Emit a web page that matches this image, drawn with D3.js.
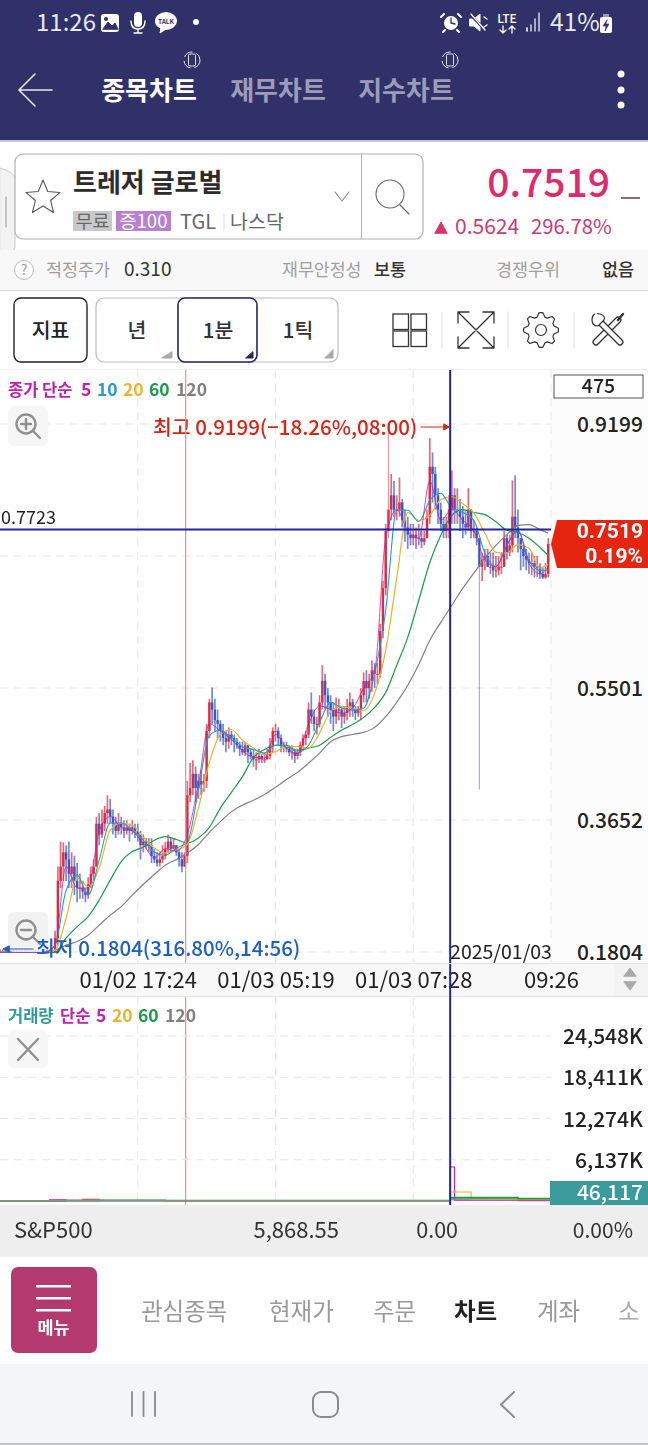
<!DOCTYPE html>
<html>
<head>
<meta charset="utf-8">
<script src="https://d3js.org/d3.v7.min.js"></script>
<style>
  html, body { margin: 0; padding: 0; background: #fff; }
  svg { display: block; }
  text { font-family: 'Noto Sans CJK KR', 'Noto Sans', sans-serif; }
</style>
</head>
<body>
<div id="chart"></div>
<script>
// Price ticks and time ticks
const priceTicks = [0.9199, 0.7350, 0.5501, 0.3652, 0.1804];
const priceTickLabels = ['0.9199', '', '0.5501', '0.3652', '0.1804'];
const timeTicks = [50, 100, 150, 200];
const timeLabels = ['01/02 17:24', '01/03 05:19', '01/03 07:28', '09:26'];
const volumeTicks = [24548, 18411, 12274, 6137];
const volumeLabels = ['24,548K', '18,411K', '12,274K', '6,137K'];

// 1 minute candles
const closes = [
  .1804,.1804,.1804,.1804,.1804,.1804,.1804,.1804,.1804,.1804,
  .1804,.1804,.1804,.1804,.1804,.1804,.1804,.1804,.1804,.1804,
  .20,.28,.30,.32,.31,.29,.30,.28,.27,.27,
  .265,.26,.275,.29,.30,.36,.345,.36,.375,.38,
  .37,.36,.35,.36,.355,.35,.355,.35,.355,.35,
  .345,.33,.335,.33,.33,.315,.31,.305,.31,.315,
  .325,.335,.325,.33,.32,.31,.30,.315,.40,.41,
  .43,.41,.42,.415,.42,.49,.53,.52,.505,.50,
  .49,.48,.475,.485,.48,.475,.47,.465,.46,.47,
  .46,.455,.45,.45,.455,.45,.45,.455,.47,.49,
  .49,.48,.47,.47,.465,.46,.46,.455,.46,.47,
  .48,.485,.52,.51,.50,.50,.53,.56,.54,.53,
  .52,.51,.52,.52,.51,.515,.525,.53,.52,.515,
  .52,.54,.56,.55,.56,.575,.57,.57,.63,.69,
  .77,.80,.82,.80,.80,.81,.785,.775,.765,.76,
  .765,.76,.76,.755,.76,.79,.86,.85,.82,.80,
  .78,.77,.78,.80,.82,.80,.80,.79,.78,.775,
  .80,.77,.77,.76,.72,.73,.735,.72,.72,.715,
  .715,.72,.72,.76,.74,.75,.79,.775,.76,.745,
  .735,.73,.725,.725,.72,.72,.71,.705,.71,.7519
];
const highs = [
  .184,.184,.184,.184,.184,.184,.184,.184,.184,.184,
  .184,.184,.184,.184,.184,.184,.184,.184,.184,.184,
  .21,.30,.335,.334,.33,.335,.32,.315,.305,.29,
  .28,.27,.285,.30,.31,.37,.375,.38,.385,.40,
  .395,.38,.37,.375,.37,.365,.365,.36,.365,.36,
  .36,.35,.345,.34,.34,.34,.325,.32,.32,.33,
  .335,.345,.34,.34,.33,.325,.32,.32,.42,.445,
  .449,.44,.43,.435,.43,.50,.535,.551,.535,.52,
  .505,.50,.49,.495,.49,.485,.48,.475,.475,.475,
  .47,.465,.465,.46,.465,.46,.46,.465,.48,.495,
  .50,.495,.485,.475,.475,.47,.47,.465,.465,.475,
  .485,.49,.53,.544,.52,.51,.54,.582,.57,.55,
  .54,.53,.537,.535,.525,.525,.535,.544,.535,.525,
  .525,.55,.572,.575,.57,.589,.585,.585,.64,.70,
  .78,.908,.85,.84,.82,.845,.815,.80,.79,.78,
  .78,.775,.78,.77,.77,.80,.90,.88,.86,.83,
  .81,.79,.79,.82,.855,.83,.83,.815,.805,.80,
  .83,.80,.785,.775,.76,.74,.745,.745,.74,.74,
  .735,.735,.74,.77,.765,.765,.841,.848,.80,.76,
  .75,.745,.74,.74,.735,.735,.725,.72,.725,.76
];
const lows = [
  .1804,.1804,.1804,.1804,.1804,.1804,.1804,.1804,.1804,.1804,
  .1804,.1804,.1804,.1804,.1804,.1804,.1804,.1804,.1804,.1804,
  .18,.19,.27,.28,.28,.27,.27,.26,.25,.255,
  .255,.25,.255,.27,.28,.30,.33,.34,.35,.36,
  .36,.345,.34,.345,.345,.34,.345,.335,.345,.34,
  .335,.31,.32,.325,.32,.305,.305,.30,.30,.305,
  .31,.32,.32,.325,.315,.30,.292,.30,.305,.39,
  .40,.39,.395,.40,.405,.41,.48,.50,.49,.48,
  .475,.47,.46,.465,.47,.46,.465,.455,.456,.455,
  .445,.45,.44,.435,.445,.445,.445,.45,.45,.46,
  .475,.47,.46,.46,.46,.455,.45,.445,.45,.455,
  .465,.47,.48,.50,.49,.485,.495,.52,.52,.51,
  .50,.49,.50,.505,.494,.50,.505,.51,.51,.505,
  .51,.505,.53,.53,.535,.545,.55,.555,.565,.62,
  .68,.76,.785,.79,.785,.79,.775,.755,.745,.75,
  .75,.745,.75,.746,.75,.76,.78,.81,.80,.78,
  .77,.76,.76,.76,.78,.78,.78,.77,.76,.765,
  .77,.76,.76,.75,.408,.70,.715,.72,.71,.705,
  .705,.708,.71,.72,.73,.735,.74,.76,.74,.715,
  .72,.715,.71,.708,.705,.705,.703,.703,.703,.705
];

// Moving averages, read every 4th bar plus the last one
const ma5 = [
  .18,.18,.18,.18,.18,.19,.30,.27,.27,.35,
  .37,.355,.35,.332,.312,.325,.322,.345,.415,.50,
  .49,.478,.462,.453,.452,.485,.466,.458,.50,.525,
  .52,.515,.522,.55,.575,.76,.80,.77,.76,.84,
  .785,.80,.785,.77,.73,.72,.75,.77,.725,.71,.72
];
const ma10 = [
  .18,.18,.18,.18,.18,.19,.267,.288,.26,.309,
  .361,.361,.351,.337,.32,.316,.326,.334,.407,.484,
  .491,.48,.468,.464,.459,.47,.47,.46,.47,.502,
  .53,.522,.519,.522,.571,.659,.799,.799,.783,.813,
  .823,.802,.796,.785,.739,.72,.75,.771,.729,.715,.715
];
const ma20 = [
  .18,.18,.18,.18,.18,.183,.228,.284,.272,.298,
  .351,.361,.358,.341,.326,.319,.323,.331,.382,.446,
  .485,.492,.477,.466,.457,.461,.468,.468,.466,.487,
  .517,.524,.522,.519,.543,.603,.704,.796,.785,.792,
  .814,.818,.808,.795,.767,.74,.739,.751,.746,.718,.723
];
const ma60 = [
  .18,.18,.18,.18,.18,.18,.20,.216,.23,.253,
  .281,.307,.321,.327,.337,.342,.338,.333,.34,.355,
  .382,.404,.426,.453,.464,.47,.468,.463,.466,.47,
  .481,.491,.499,.509,.523,.544,.582,.621,.673,.726,
  .764,.792,.80,.796,.793,.783,.771,.768,.76,.747,.736
];
const ma120 = [
  .18,.18,.18,.18,.18,.183,.19,.195,.204,.218,
  .232,.244,.26,.275,.289,.302,.31,.319,.331,.348,
  .363,.377,.386,.393,.401,.411,.422,.432,.445,.459,
  .475,.482,.485,.488,.495,.51,.53,.554,.583,.617,
  .642,.666,.69,.711,.732,.75,.765,.778,.779,.772,.767
];

// Volume in thousands, read every 4th bar
const volumes = [
  20,20,20,20,20,180,120,60,90,70,
  60,40,40,50,40,30,30,50,60,50,
  40,30,30,30,30,50,30,30,40,50,
  40,30,30,40,60,120,60,50,40,40,
  60,50,40,30,30,30,30,60,30,30
];
// Volume averages change at these bars only
const volumeSteps = [0, 18, 24, 30, 36, 60, 120, 163.4, 165, 171, 188, 200];
const volMa5 = [20, 190, 100, 240, 70, 40, 50, 5060, 120, 110, 60, 46];
const volMa20 = [20, 60, 110, 120, 90, 50, 50, 1340, 1340, 300, 200, 120];
const volMa60 = [20, 30, 50, 70, 80, 60, 50, 480, 480, 480, 350, 350];
const volMa120 = [20, 20, 30, 40, 50, 50, 50, 270, 270, 270, 270, 270];

const currentPrice = 0.7519;
const crossPrice = 0.7723;
const crossBar = 163.4;
const markerBar = 67.4;

const colors = {
  up: '#dc2b45', down: '#3658c6', ma5: '#c21fae', ma10: '#1f9fc9', ma20: '#eeb22c',
  ma60: '#1d9a4a', ma120: '#808080', navy: '#303169', cross: '#2323a8', grid: '#e6e6e6'
};

const width = 648, height = 1445;
const svg = d3.select('#chart').append('svg').attr('width', width).attr('height', height);

const defs = svg.append('defs');
defs.append('filter').attr('id', 'soft').attr('x', '-5%').attr('y', '-5%').attr('width', '110%').attr('height', '110%')
  .append('feGaussianBlur').attr('stdDeviation', 0.45);

function label(parent, x, y, str, size, fill, opts = {}) {
  return parent.append('text')
    .attr('x', x).attr('y', y)
    .attr('font-size', size)
    .attr('fill', fill)
    .attr('font-weight', opts.weight || 400)
    .attr('text-anchor', opts.anchor || 'start')
    .text(str);
}
function box(parent, x, y, w, h, fill, opts = {}) {
  return parent.append('rect').attr('x', x).attr('y', y).attr('width', w).attr('height', h)
    .attr('rx', opts.rx || 0).attr('fill', fill)
    .attr('stroke', opts.stroke || 'none').attr('stroke-width', opts.sw || 1);
}
function stroke(parent, d, color, sw = 1.5, fill = 'none') {
  return parent.append('path').attr('d', d).attr('fill', fill).attr('stroke', color)
    .attr('stroke-width', sw).attr('stroke-linecap', 'round').attr('stroke-linejoin', 'round');
}

/* ---------- app chrome above the chart ---------- */
const header = svg.append('g');
box(header, 0, 0, width, 140, colors.navy);
box(header, 0, 140, width, 2, '#c5c8dc');
label(header, 36, 31, '11:26', 24, '#e8e8f0');

// status icons left
box(header, 101, 14, 18, 18, '#fff', { rx: 3 });
stroke(header, 'M103 29 L108 22 L112 26 L115 23 L118 29 Z', colors.navy, 1, colors.navy);
header.append('circle').attr('cx', 106).attr('cy', 19).attr('r', 2).attr('fill', colors.navy);
box(header, 134, 12, 8, 15, '#fff', { rx: 4 });
stroke(header, 'M131 21 Q131 29 138 29 Q145 29 145 21 M138 29 L138 33 M134 33 L142 33', '#fff', 1.4);
header.append('ellipse').attr('cx', 166).attr('cy', 21).attr('rx', 11).attr('ry', 9).attr('fill', '#fff');
stroke(header, 'M161 28 L160 33 L166 29', '#fff', 1, '#fff');
label(header, 166, 24, 'TALK', 6.5, colors.navy, { anchor: 'middle', weight: 700 });
header.append('circle').attr('cx', 196).attr('cy', 22).attr('r', 3).attr('fill', '#fff');

// status icons right
header.append('circle').attr('cx', 451).attr('cy', 23).attr('r', 7).attr('fill', '#fff');
stroke(header, 'M451 18 L451 23 L455 24', colors.navy, 1.3);
stroke(header, 'M444 14 L441 17 M458 14 L461 17 M445 30 L443 32 M457 30 L459 32', '#fff', 2);
stroke(header, 'M470 19 L474 19 L480 14 L480 31 L474 26 L470 26 Z', '#fff', 1, '#fff');
stroke(header, 'M470 14 L486 31', colors.navy, 3);
stroke(header, 'M471 14 L485 30', '#fff', 1.3);
stroke(header, 'M484 17 L487 19 M484 27 L487 25', '#fff', 1.4);
label(header, 507, 23, 'LTE', 12, '#fff', { anchor: 'middle', weight: 500 });
stroke(header, 'M503 26 L503 33 M500 30 L503 33 L506 30 M512 33 L512 26 M509 29 L512 26 L515 29', '#fff', 1.3);
[[527, 31, 28], [531, 31, 25], [535, 31, 19], [539, 31, 13]].forEach(d => {
  stroke(header, `M${d[0]} ${d[1]} L${d[0]} ${d[2]}`, d[0] > 530 ? '#c9c9dc' : '#fff', 1.6);
});
label(header, 550, 31, '41%', 24.5, '#e8e8f0');
box(header, 600, 17, 12, 16, '#fff', { rx: 2 });
box(header, 603, 14, 6, 3, '#9a9ab8');
stroke(header, 'M607 20 L603 26 L606 26 L605 31 L609 24 L606 24 Z', colors.navy, 0.6, colors.navy);

// app bar
stroke(header, 'M52 90 L19 90 M19 90 L35 74 M19 90 L35 106', '#e8e8f0', 1.6);
label(header, 149, 100, '종목차트', 26, '#fff', { anchor: 'middle', weight: 700 });
label(header, 278, 100, '재무차트', 26, '#9c9cb8', { anchor: 'middle', weight: 700 });
label(header, 406, 100, '지수차트', 26, '#9c9cb8', { anchor: 'middle', weight: 700 });
[74, 90, 105].forEach(cy => header.append('circle').attr('cx', 621).attr('cy', cy).attr('r', 3.5).attr('fill', '#fff'));
[192, 450].forEach(cx => {
  box(header, cx - 3.5, 54, 7, 12, 'none', { rx: 1.5, stroke: '#e0e0ea', sw: 1 });
  header.append('circle').attr('cx', cx).attr('cy', 60).attr('r', 8).attr('fill', 'none')
    .attr('stroke', '#e0e0ea').attr('stroke-width', 1).attr('stroke-dasharray', '10 4');
});

// symbol panel
box(header, 0, 142, width, 108, '#fff');
stroke(header, 'M0 168 Q14 172 15 178 L15 248 Q14 252 0 256 Z', '#c9c9c9', 1, '#f2f2f2');
stroke(header, 'M6 197 L6 227', '#b5b5b5', 1.5);
box(header, 15, 154, 408, 85, '#fff', { rx: 8, stroke: '#b2b2b2', sw: 1.2 });
stroke(header, 'M361.5 154 L361.5 239', '#b2b2b2', 1);
const starPts = d3.range(10).map(i => {
  const r = i % 2 ? 8 : 18, a = -Math.PI / 2 + i * Math.PI / 5;
  return [43 + r * Math.cos(a), 198 + r * Math.sin(a)];
});
stroke(header, 'M' + starPts.join('L') + 'Z', '#555', 1.1);
label(header, 73, 192, '트레저 글로벌', 26, '#2c2c2c', { weight: 700 });
box(header, 73, 211, 39, 20, '#c9c9c9');
label(header, 92.5, 228, '무료', 18.5, '#666', { anchor: 'middle' });
box(header, 116, 211, 55, 20, '#b980d2');
label(header, 143.5, 228, '증100', 18.5, '#fff', { anchor: 'middle' });
label(header, 180, 229, 'TGL', 20, '#666');
stroke(header, 'M224 214 L224 230', '#ddd', 1);
label(header, 230, 229, '나스닥', 19.5, '#666');
stroke(header, 'M335 192 L342 201 L349 192', '#888', 1.1);
header.append('circle').attr('cx', 390).attr('cy', 194).attr('r', 14).attr('fill', 'none').attr('stroke', '#666').attr('stroke-width', 1.1);
stroke(header, 'M400 205 L409 214', '#666', 1.2);

label(header, 610, 197, '0.7519', 39, '#dd2b6e', { anchor: 'end', weight: 500 });
box(header, 621, 197, 19, 2, '#8a6a72');
stroke(header, 'M435 233 L441 222 L447 233 Z', '#d83474', 1, '#d83474');
label(header, 455, 234, '0.5624', 21, '#c93a78');
label(header, 531, 234, '296.78%', 20.3, '#c93a78');

// valuation strip
box(header, 0, 250, width, 40, '#f8f8f8');
box(header, 0, 290, width, 1, '#d8d8d8');
header.append('circle').attr('cx', 24).attr('cy', 270).attr('r', 9.5).attr('fill', '#fff').attr('stroke', '#bbb');
label(header, 24, 275, '?', 14, '#999', { anchor: 'middle' });
label(header, 46, 276, '적정주가', 17.4, '#a0a0a0');
label(header, 124, 276, '0.310', 19, '#333');
label(header, 282, 276, '재무안정성', 17.3, '#a0a0a0');
label(header, 374, 276, '보통', 17.4, '#333', { weight: 500 });
label(header, 496, 276, '경쟁우위', 17.4, '#a0a0a0');
label(header, 602, 276, '없음', 17.4, '#333', { weight: 500 });

// period toolbar
box(header, 14, 298, 73, 64, '#fff', { rx: 7, stroke: '#222', sw: 1.4 });
label(header, 50.5, 338, '지표', 20.5, '#222', { anchor: 'middle', weight: 500 });
box(header, 96, 298, 242, 64, '#fff', { rx: 8, stroke: '#bbb', sw: 1.2 });
box(header, 178, 298, 79, 64, '#fff', { rx: 7, stroke: '#25255f', sw: 1.6 });
label(header, 137, 338, '년', 20.5, '#333', { anchor: 'middle', weight: 500 });
label(header, 218, 338, '1분', 20.5, '#333', { anchor: 'middle', weight: 500 });
label(header, 298, 338, '1틱', 20.5, '#333', { anchor: 'middle', weight: 500 });
stroke(header, 'M172 352 L172 358 L162 358 Z', '#aaa', 1, '#aaa');
stroke(header, 'M253 352 L253 358 L246 358 Z', '#25255f', 1, '#25255f');
stroke(header, 'M333 350 L333 358 L325 358 Z', '#aaa', 1, '#aaa');
[[393, 314], [411, 314], [393, 331], [411, 331]].forEach(d => box(header, d[0], d[1], 15.5, 15.5, '#fff', { stroke: '#333', sw: 1.3 }));
[442, 508, 574].forEach(x => stroke(header, `M${x} 312 L${x} 348`, '#ddd', 1));
stroke(header, 'M458 312 L494 348 M494 312 L458 348 M458 323 L458 312 L469 312 M483 312 L494 312 L494 323 M494 337 L494 348 L483 348 M469 348 L458 348 L458 337', '#333', 1.3);
const gearPts = d3.range(32).map(i => {
  const r = [17.5, 17.5, 13.5, 13.5][i % 4], a = (i - 0.5) * Math.PI / 16;
  return [541 + r * Math.cos(a), 330 + r * Math.sin(a)];
});
stroke(header, 'M' + gearPts.join('L') + 'Z', '#333', 1.2);
header.append('circle').attr('cx', 541).attr('cy', 330).attr('r', 5.5).attr('fill', 'none').attr('stroke', '#333').attr('stroke-width', 1.2);
// screwdriver under wrench, drawn as a dark stroke with a white core
stroke(header, 'M618 320 L596 342', '#333', 7);
stroke(header, 'M618 320 L596 342', '#fff', 4.4);
stroke(header, 'M618 320 L623 314', '#333', 2.4);
stroke(header, 'M598 320 L620 342', '#333', 7);
stroke(header, 'M598 320 L620 342', '#fff', 4.4);
stroke(header, 'M600 314 Q592 312 592 320 Q592 326 598 326 L604 320 Q606 316 600 314 Z', '#333', 1.2, '#fff');
stroke(header, 'M596 314 L600 320 L594 319', '#fff', 2.2);

/* ---------- price pane ---------- */
const xScale = d3.scaleLinear().domain([0, 200]).range([0, 551]);
const yScale = d3.scaleLinear().domain([0.1804, 0.9199]).range([952, 424]);
const volScale = d3.scaleLinear().domain([0, 24548]).range([1201, 1036]);

const maBars = d3.range(0, 200, 4).concat([199]);

box(svg, 0, 370, width, 594, '#fff');
box(svg, 551, 370, 97, 594, '#fcfcfc');
box(svg, 0, 369, width, 1, '#eee');

const grid = svg.append('g');
grid.selectAll('.price-grid').data(priceTicks).enter().append('line')
  .attr('class', 'price-grid')
  .attr('x1', 0).attr('x2', 551)
  .attr('y1', d => yScale(d)).attr('y2', d => yScale(d))
  .attr('stroke', colors.grid).attr('stroke-dasharray', '8,6');
grid.selectAll('.time-grid').data(timeTicks).enter().append('line')
  .attr('class', 'time-grid')
  .attr('x1', d => xScale(d)).attr('x2', d => xScale(d))
  .attr('y1', 370).attr('y2', 963)
  .attr('stroke', colors.grid).attr('stroke-dasharray', '8,6');

const plot = svg.append('g').attr('filter', 'url(#soft)');
const candles = closes.map((c, i) => ({
  i, close: c, open: i ? closes[i - 1] : c, high: highs[i], low: lows[i]
}));
const candleColor = d => d.close >= d.open ? colors.up : colors.down;
// the very long wicks look thin and pale in the picture
const longWick = d => yScale(d.low) - yScale(d.high) > 100;

plot.selectAll('.wick').data(candles).enter().append('line')
  .attr('class', 'wick')
  .attr('x1', d => xScale(d.i)).attr('x2', d => xScale(d.i))
  .attr('y1', d => yScale(d.high)).attr('y2', d => yScale(d.low))
  .attr('stroke', candleColor)
  .attr('stroke-width', d => longWick(d) ? 1.1 : 1.7)
  .attr('opacity', d => longWick(d) ? 0.5 : 0.7);
plot.selectAll('.body').data(candles).enter().append('rect')
  .attr('class', 'body')
  .attr('x', d => xScale(d.i) - 1.2)
  .attr('width', 2.4)
  .attr('y', d => Math.min(yScale(d.open), yScale(d.close)))
  .attr('height', d => Math.max(1, Math.abs(yScale(d.open) - yScale(d.close))))
  .attr('fill', candleColor);

const maLine = d3.line().x((d, i) => xScale(maBars[i])).y(d => yScale(d)).curve(d3.curveMonotoneX);
[[ma120, colors.ma120, 1.2, 1], [ma60, colors.ma60, 1.2, 1], [ma20, colors.ma20, 1.2, 1], [ma10, colors.ma10, 1.1, 1], [ma5, colors.ma5, 1, 0.8]].forEach(s => {
  plot.append('path').attr('d', maLine(s[0])).attr('fill', 'none').attr('stroke', s[1])
    .attr('stroke-width', s[2]).attr('opacity', s[3]);
});

// price axis on the right
const priceAxis = d3.axisRight(yScale).tickValues(priceTicks).tickSize(0)
  .tickFormat((d, i) => priceTickLabels[i]);
const priceAxisG = svg.append('g').attr('transform', 'translate(643,0)').call(priceAxis);
priceAxisG.select('.domain').remove();
priceAxisG.selectAll('text')
  .attr('x', 0).attr('dy', '0.36em').attr('text-anchor', 'end')
  .attr('font-size', 21).attr('font-weight', 500).attr('fill', '#222');

box(svg, 554, 375, 89, 23, '#fff', { stroke: '#555', sw: 1 });
label(svg, 598.5, 393, '475', 19.5, '#222', { anchor: 'middle', weight: 500 });

// pane legends
const legend = svg.append('g');
[['종가 단순', 8, '#c21fae'], ['5', 81, colors.ma5], ['10', 97, colors.ma10], ['20', 123, colors.ma20],
  ['60', 149, colors.ma60], ['120', 176, colors.ma120]].forEach(d => {
  label(legend, d[1], 396, d[0], d[0].length < 4 ? 17.5 : 16.5, d[2], { weight: 700 });
});
[['거래량', 8, '#2f9a9c'], ['단순', 60, '#c21fae'], ['5', 96, colors.ma5], ['20', 112, colors.ma20],
  ['60', 138, colors.ma60], ['120', 165, colors.ma120]].forEach(d => {
  label(legend, d[1], 1022, d[0], /\d/.test(d[0]) ? 17.5 : 16.5, d[2], { weight: 700 });
});

// zoom buttons
box(svg, 8, 406, 40, 40, '#f6f6f6', { rx: 6 });
svg.append('circle').attr('cx', 26).attr('cy', 424).attr('r', 9.5).attr('fill', 'none').attr('stroke', '#909090').attr('stroke-width', 2.4);
stroke(svg, 'M21 424 L31 424 M26 419 L26 429 M33 431 L40 438', '#909090', 2.4);
box(svg, 8, 912, 40, 40, '#f0f0f0', { rx: 6 }).attr('opacity', 0.85);
svg.append('circle').attr('cx', 26).attr('cy', 930).attr('r', 9.5).attr('fill', 'none').attr('stroke', '#909090').attr('stroke-width', 2.4);
stroke(svg, 'M21 930 L31 930 M33 937 L40 944', '#909090', 2.4);

// high and low notes
label(svg, 153, 435, '최고 0.9199(−18.26%,08:00)', 20.5, '#d92414', { weight: 500 });
stroke(svg, 'M421 427 L448 427', '#d92414', 1.2);
stroke(svg, 'M444 424 L449 427 L444 430 Z', '#d92414', 1, '#d92414');
label(svg, 36, 956, '최저 0.1804(316.80%,14:56)', 20.5, '#1b5fc2', { weight: 500 });
stroke(svg, 'M5 949 L33 949', '#1b5fc2', 1.2);
stroke(svg, 'M9 946 L3 949 L9 952 Z', '#1b5fc2', 1, '#1b5fc2');

// crosshair and session marker
svg.append('line').attr('x1', xScale(markerBar)).attr('x2', xScale(markerBar)).attr('y1', 370).attr('y2', 1205)
  .attr('stroke', '#e08a84').attr('stroke-width', 1.1);
svg.append('line').attr('x1', 0).attr('x2', 551).attr('y1', yScale(crossPrice)).attr('y2', yScale(crossPrice))
  .attr('stroke', colors.cross).attr('stroke-width', 2);
svg.append('line').attr('x1', xScale(crossBar)).attr('x2', xScale(crossBar)).attr('y1', 370).attr('y2', 964)
  .attr('stroke', colors.cross).attr('stroke-width', 2);
label(svg, 1, yScale(crossPrice) - 5, '0.7723', 18, '#222');
label(svg, 501, 959, '2025/01/03', 19.5, '#222', { anchor: 'middle' });

// current price tag, Roboto keeps the two tight lines from touching
const tagY = yScale(currentPrice);
svg.append('polygon')
  .attr('points', `551,${tagY} 557,${tagY - 24} 648,${tagY - 24} 648,${tagY + 24} 557,${tagY + 24}`)
  .attr('fill', '#e62510');
label(svg, 643, tagY - 6, '0.7519', 21, '#fff', { anchor: 'end', weight: 700 }).style('font-family', 'Roboto');
label(svg, 643, tagY + 19, '0.19%', 21, '#fff', { anchor: 'end', weight: 700 }).style('font-family', 'Roboto');

/* ---------- time axis ---------- */
box(svg, 0, 964, width, 33, '#f8f8f8');
box(svg, 0, 963, width, 1, '#e4e4e4');
box(svg, 0, 996, width, 1, '#e4e4e4');
const timeAxis = d3.axisBottom(xScale).tickValues(timeTicks).tickSize(0).tickFormat((d, i) => timeLabels[i]);
const timeAxisG = svg.append('g').attr('transform', 'translate(0,968)').call(timeAxis);
timeAxisG.select('.domain').remove();
timeAxisG.selectAll('text').attr('y', 0).attr('dy', '0.9em').attr('font-size', 22)
  .attr('fill', '#222').attr('text-anchor', 'middle');
svg.append('line').attr('x1', xScale(crossBar)).attr('x2', xScale(crossBar)).attr('y1', 964).attr('y2', 997)
  .attr('stroke', colors.cross).attr('stroke-width', 2);
box(svg, 614, 964, 34, 32, '#f3f3f3');
stroke(svg, 'M624 976 L630 968 L636 976 Z', '#aaa', 1, '#aaa');
stroke(svg, 'M624 982 L630 990 L636 982 Z', '#aaa', 1, '#aaa');

/* ---------- volume pane ---------- */
const volGrid = svg.append('g');
volGrid.selectAll('line.h').data(volumeTicks).enter().append('line').attr('class', 'h')
  .attr('x1', 0).attr('x2', 551)
  .attr('y1', d => volScale(d)).attr('y2', d => volScale(d))
  .attr('stroke', colors.grid).attr('stroke-dasharray', '8,6');
volGrid.selectAll('line.v').data(timeTicks.slice(0, 3)).enter().append('line').attr('class', 'v')
  .attr('x1', d => xScale(d)).attr('x2', d => xScale(d))
  .attr('y1', 997).attr('y2', 1205)
  .attr('stroke', colors.grid).attr('stroke-dasharray', '8,6');

const volumeAxis = d3.axisRight(volScale).tickValues(volumeTicks).tickSize(0).tickFormat((d, i) => volumeLabels[i]);
const volumeAxisG = svg.append('g').attr('transform', 'translate(643,0)').call(volumeAxis);
volumeAxisG.select('.domain').remove();
volumeAxisG.selectAll('text').attr('x', 0).attr('dy', '0.36em').attr('text-anchor', 'end')
  .attr('font-size', 21).attr('font-weight', 500).attr('fill', '#222');

box(svg, 8, 1030, 40, 38, '#f7f7f7', { rx: 6 });
stroke(svg, 'M18 1039 L38 1060 M38 1039 L18 1060', '#909090', 2.4);

svg.selectAll('.vol-bar').data(volumes).enter().append('rect').attr('class', 'vol-bar')
  .attr('x', (d, i) => xScale(maBars[i]))
  .attr('width', xScale(4) - xScale(0) - 1)
  .attr('y', d => volScale(d))
  .attr('height', d => volScale(0) - volScale(d))
  .attr('fill', '#888');
const volLine = d3.line().x((d, i) => xScale(volumeSteps[i])).y(d => volScale(d)).curve(d3.curveStepAfter);
[[volMa5, colors.ma5, 1.1], [volMa120, colors.ma120, 1.1], [volMa20, colors.ma20, 1.2], [volMa60, colors.ma60, 1.8]].forEach(s => {
  svg.append('path').attr('d', volLine(s[0])).attr('fill', 'none').attr('stroke', s[1]).attr('stroke-width', s[2]);
});
box(svg, 0, 1200, 450, 1.6, '#8d8d8d');
svg.append('line').attr('x1', xScale(crossBar)).attr('x2', xScale(crossBar)).attr('y1', 997).attr('y2', 1205)
  .attr('stroke', colors.cross).attr('stroke-width', 2);

box(svg, 550, 1181, 98, 24, '#3b9b9c');
label(svg, 643, 1200, '46,117', 21, '#fff', { anchor: 'end', weight: 500 });

/* ---------- index strip, nav ---------- */
box(svg, 0, 1205, width, 52, '#eeeeee');
label(svg, 14, 1238, 'S&P500', 22, '#333');
label(svg, 339, 1238, '5,868.55', 22, '#333', { anchor: 'end' });
label(svg, 458, 1238, '0.00', 21.5, '#333', { anchor: 'end' });
label(svg, 633, 1238, '0.00%', 21, '#333', { anchor: 'end' });

box(svg, 0, 1257, width, 108, '#fff');
box(svg, 11, 1267, 86, 86, '#b4396e', { rx: 7 });
[1286, 1298, 1310].forEach(y => box(svg, 36, y - 1, 35, 2.5, '#fff'));
label(svg, 53.5, 1334, '메뉴', 17.5, '#fff', { anchor: 'middle', weight: 700 });
[['관심종목', 141, '#999', 400], ['현재가', 269, '#999', 400], ['주문', 373, '#999', 400],
  ['차트', 454, '#222', 700], ['계좌', 537, '#999', 400], ['소', 618, '#aaa', 400]].forEach(d => {
  label(svg, d[1], 1320, d[0], 23.5, d[2], { weight: d[3] });
});

box(svg, 0, 1364, width, 81, '#f4f5f7');
box(svg, 0, 1443, width, 2, '#c4c4c4');
[132, 143.5, 155].forEach(x => stroke(svg, `M${x} 1392 L${x} 1416`, '#8b8b8b', 1.8));
box(svg, 313, 1392, 25, 25, 'none', { rx: 8, stroke: '#8b8b8b', sw: 2 });
stroke(svg, 'M514 1392 L501 1404.5 L514 1417', '#8b8b8b', 2);
</script>
</body>
</html>
